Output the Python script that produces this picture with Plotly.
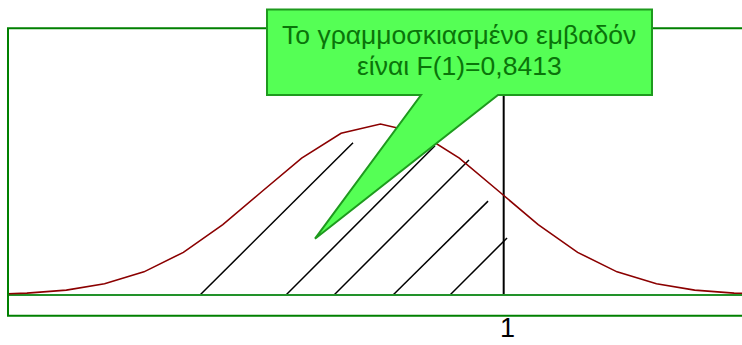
import plotly.graph_objects as go

# ---------------- data ----------------
# polyline samples of the normal density curve (x in z-units, y = density)
curve_x = [-3.51, -3.19, -2.87, -2.55, -2.24, -1.92, -1.60, -1.28, -0.96, -0.64, -0.32,
           0.0, 0.32, 0.64, 0.96, 1.28, 1.60, 1.92, 2.24, 2.55, 2.87, 3.19, 3.51]
curve_y = [0.0005, 0.0015, 0.0044, 0.0114, 0.0262, 0.0540, 0.0995, 0.1640, 0.2420, 0.3194, 0.3774,
           0.3989, 0.3774, 0.3194, 0.2420, 0.1640, 0.0995, 0.0540, 0.0262, 0.0114, 0.0044, 0.0015, 0.0005]

# hatching segments: start on the baseline at hatch_x0, end at (hatch_x1, hatch_y1)
hatch_x0 = [-1.465, -0.767, -0.377, 0.102, 0.564]
hatch_x1 = [-0.223, 0.442, 0.718, 0.873, 1.027]
hatch_y1 = [0.355, 0.348, 0.315, 0.219, 0.133]

cut_value = 1
cut_label = "1"
cut_top = 0.50
callout_lines = ["Το γραμμοσκιασμένο εμβαδόν", "είναι F(1)=0,8413"]

# ---------------- layout helpers (pixel -> paper) ----------------
W, H = 742, 345
ML = 8
PW = W - ML


def pxx(px):
    return (px - ML) / PW


def pxy(py):
    return 1 - py / H


X0, X1 = -3.0235, 2.9343
Y0, Y1 = -0.11663, 0.68813

fig = go.Figure()

# hatching
for a, b, c in zip(hatch_x0, hatch_x1, hatch_y1):
    fig.add_trace(go.Scatter(x=[a, b], y=[0, c], mode="lines",
                             line=dict(color="black", width=1.5),
                             hoverinfo="skip", showlegend=False))

# vertical line at x = 1
fig.add_trace(go.Scatter(x=[cut_value, cut_value], y=[0, cut_top], mode="lines",
                         line=dict(color="black", width=2),
                         hoverinfo="skip", showlegend=False))

# baseline
fig.add_trace(go.Scatter(x=[X0 - 1, X1 + 1], y=[0, 0], mode="lines",
                         line=dict(color="#22922a", width=2),
                         hoverinfo="skip", showlegend=False))

# density curve
fig.add_trace(go.Scatter(x=curve_x, y=curve_y, mode="lines",
                         line=dict(color="#8b0000", width=1.6),
                         hoverinfo="skip", showlegend=False))

shapes = []
# green frame
shapes.append(dict(type="rect", xref="paper", yref="paper",
                   x0=pxx(8), x1=pxx(760), y0=pxy(315.7), y1=pxy(28.3),
                   line=dict(color="#008000", width=2), fillcolor="rgba(0,0,0,0)",
                   layer="above"))

# callout bubble
pts = [(267, 9.5), (652, 9.5), (652, 95), (498, 95), (315, 238.7), (421, 95), (267, 95)]
path = "M " + " L ".join(f"{pxx(a):.5f},{pxy(b):.5f}" for a, b in pts) + " Z"
shapes.append(dict(type="path", xref="paper", yref="paper", path=path,
                   fillcolor="#55ff55", line=dict(color="#1e9a1e", width=2),
                   layer="above"))

annotations = []
for i, t in enumerate(callout_lines):
    annotations.append(dict(text=t, xref="paper", yref="paper",
                            x=pxx(459), y=pxy(35 + 31 * i),
                            xanchor="center", yanchor="middle", showarrow=False,
                            font=dict(family="Liberation Sans, Arial, sans-serif",
                                      size=26.5, color="#0a740a")))

annotations.append(dict(text=cut_label, xref="x", yref="paper",
                        x=cut_value, y=pxy(328), xshift=4,
                        xanchor="center", yanchor="middle", showarrow=False,
                        font=dict(family="Liberation Sans, Arial, sans-serif",
                                  size=27, color="black")))

fig.update_layout(
    width=W, height=H, autosize=False,
    margin=dict(l=ML, r=0, t=0, b=0, pad=0),
    paper_bgcolor="white", plot_bgcolor="white",
    xaxis=dict(range=[X0, X1], visible=False, fixedrange=True),
    yaxis=dict(range=[Y0, Y1], visible=False, fixedrange=True),
    shapes=shapes, annotations=annotations,
    showlegend=False,
)

fig.write_html("out.html", config={"displayModeBar": False},
               post_script="document.body.style.margin='0';"
                           "document.body.style.padding='0';"
                           "document.body.style.overflow='hidden';")
